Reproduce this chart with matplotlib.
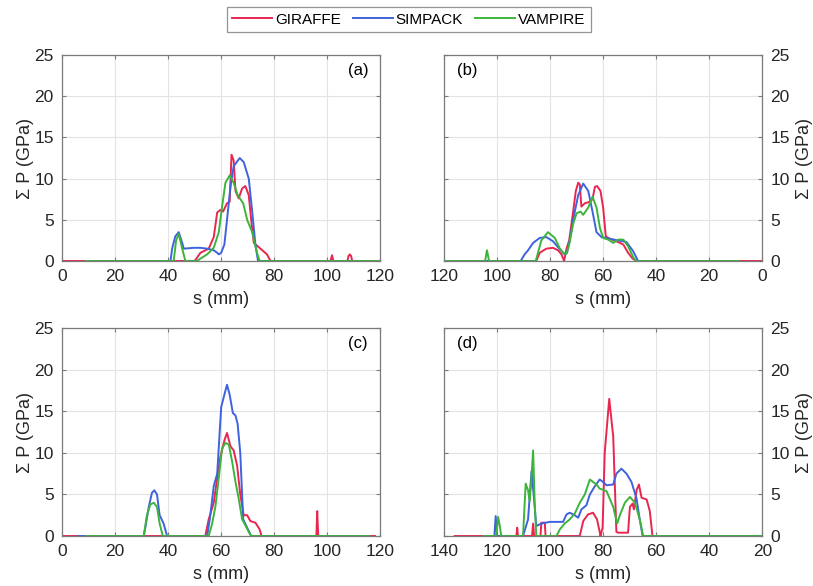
import matplotlib.pyplot as plt

plt.rcParams['font.family'] = ['Liberation Sans', 'DejaVu Sans']

names = ['GIRAFFE', 'SIMPACK', 'VAMPIRE']
colors = ['#e8264f', '#3f62dd', '#3cb43c']

# panel (a)
a_red_x = [0, 50, 52.2, 55.3, 57.2, 58.5, 59.7, 60.7, 62.2, 63.2, 63.9, 64.7, 65.4, 66.6, 67.9, 69.1, 70.4, 71.3, 72.3, 74.8, 77.3, 78.6,
           101.2, 101.8, 102.3, 107.6, 108.0, 108.5, 109.0, 109.4, 120]
a_red_y = [0, 0, 1.0, 1.5, 2.9, 5.9, 6.2, 6.0, 7.0, 7.2, 12.9, 12.2, 8.5, 7.6, 8.8, 9.1, 8.0, 5.0, 2.2, 1.5, 0.8, 0,
           0, 0.7, 0, 0, 0.6, 0.8, 0.6, 0, 0]
a_blue_x = [9, 40.9, 41.5, 42.7, 44.0, 45.3, 45.9, 49.7, 52.2, 54.7, 57.2, 58.5, 59.1, 60.0, 61.2, 62.2, 63.5, 64.7, 67.0, 68.5, 70.4,
            71.7, 72.9, 73.9, 120]
a_blue_y = [0, 0, 1.5, 3.0, 3.5, 2.2, 1.5, 1.6, 1.6, 1.5, 1.3, 1.0, 0.8, 1.0, 2.0, 5.0, 9.0, 11.5, 12.5, 12.0, 10.0,
            6.0, 2.0, 0, 0]
a_green_x = [9, 42.1, 43.0, 44.0, 45.3, 46.5, 50.9, 52.2, 54.7, 57.2, 59.1, 60.3, 61.6, 63.2, 64.7, 66.2, 68.3, 69.8, 71.7, 73.5,
             74.5, 120]
a_green_y = [0, 0, 2.5, 3.3, 1.5, 0, 0, 0.3, 0.8, 1.6, 3.5, 6.5, 9.5, 10.4, 9.5, 8.0, 7.0, 5.0, 3.5, 1.0,
             0, 0]

# panel (b)
b_red_x = [0, 47.4, 48.9, 50.6, 52.4, 55.0, 57.5, 59.0, 60.0, 61.0, 62.3, 63.1, 64.0, 65.0, 66.9, 68.2, 68.8, 69.4, 70.3, 71.3,
           72.8, 73.8, 74.7, 75.7, 77.0, 78.9, 81.4, 83.9, 85.2, 120]
b_red_y = [0, 0, 0.3, 1.0, 2.0, 2.4, 2.7, 3.0, 6.5, 8.5, 9.1, 9.0, 7.5, 7.2, 7.0, 6.6, 9.3, 9.5, 8.5, 6.0,
           2.5, 1.5, 0, 0.8, 1.3, 1.6, 1.5, 1.0, 0, 0]
b_blue_x = [9, 46.8, 48.7, 51.2, 54.3, 57.5, 60.6, 62.5, 64.0, 65.6, 67.5, 69.4, 71.3, 72.6, 73.6, 74.5, 76.3, 78.9, 81.4, 83.9,
            86.4, 88.3, 89.6, 91.1, 120]
b_blue_y = [0, 0, 1.2, 2.3, 2.5, 2.7, 2.9, 3.5, 6.0, 8.5, 9.4, 8.0, 5.0, 2.5, 1.0, 0.8, 1.4, 2.4, 2.9, 2.8,
            2.2, 1.3, 0.8, 0, 0]
b_green_x = [9, 47.7, 48.7, 50.6, 52.4, 54.3, 56.2, 58.1, 60.0, 61.2, 62.5, 64.0, 65.6, 67.5, 68.5, 70.0, 71.3, 72.8, 73.8, 74.8,
             76.3, 78.2, 80.8, 83.3, 85.4, 103.0, 103.8, 104.5, 120]
b_green_y = [0, 0, 0.5, 1.8, 2.6, 2.6, 2.2, 2.6, 2.8, 4.0, 6.5, 7.8, 6.5, 5.6, 6.0, 5.8, 4.5, 2.0, 0.9, 0.9,
             1.5, 2.8, 3.5, 2.5, 0, 0, 1.3, 0, 0]

# panel (c)
c_red_x = [0, 54.0, 55.3, 57.2, 58.5, 59.7, 61.2, 62.2, 63.5, 64.7, 66.0, 67.2, 68.5, 69.8, 71.0, 72.9, 74.5, 75.2,
           95.9, 96.2, 96.6, 118]
c_red_y = [0, 0, 2.0, 4.0, 7.0, 9.5, 11.5, 12.4, 10.8, 10.3, 8.5, 5.0, 2.5, 2.5, 1.8, 1.6, 0.8, 0,
           0, 3.0, 0, 0]
c_blue_x = [6, 30.8, 31.4, 32.7, 33.9, 34.8, 35.8, 36.8, 38.3, 39.6, 54.7, 55.7, 57.2, 58.5, 60.0, 61.2, 62.2, 63.2, 64.4,
            65.4, 66.2, 67.2, 68.3, 69.8, 71.3, 115.7]
c_blue_y = [0, 0, 1.0, 3.5, 5.2, 5.5, 5.0, 2.5, 1.5, 0, 0, 2.0, 6.0, 7.5, 15.5, 17.0, 18.2, 17.0, 14.8,
            14.5, 13.5, 10.0, 2.0, 1.0, 0, 0]
c_green_x = [9, 30.8, 32.0, 33.3, 34.6, 35.8, 36.8, 38.0, 55.3, 56.6, 57.8, 59.1, 60.3, 61.6, 62.9, 64.1, 65.4, 66.6, 67.9,
             69.1, 70.4, 71.3, 115.7]
c_green_y = [0, 0, 2.5, 3.8, 4.0, 3.5, 1.5, 0, 0, 1.5, 3.5, 7.0, 10.5, 11.2, 11.0, 9.0, 6.5, 4.5, 2.0,
             1.3, 0.5, 0, 0]

# panel (d)
d_red_x = [20, 61.4, 62.4, 63.6, 65.5, 66.5, 67.4, 68.4, 68.9, 69.9, 70.6, 74.3, 75.0, 76.2, 77.7, 79.4, 80.2, 81.0, 81.3,
           82.3, 83.8, 85.7, 87.5, 88.8, 101.7, 102.0, 103.3, 103.6, 106.0, 106.4, 106.8, 112.1, 112.4, 112.7, 136]
d_red_y = [0, 0, 3.0, 4.4, 4.6, 6.2, 5.5, 3.2, 3.9, 3.5, 0.4, 0.4, 0.5, 12.0, 16.5, 10.0, 1.0, 0, 0.5,
           2.0, 2.8, 2.6, 1.8, 0, 0, 1.6, 1.6, 0, 0, 1.5, 0, 0, 1.0, 0, 0]
d_blue_x = [20, 65.1, 66.2, 67.4, 69.3, 71.2, 73.1, 75.0, 76.2, 78.7, 80.0, 81.3, 83.1, 85.0, 86.3, 88.2, 89.4, 90.7, 92.6,
            93.8, 95.1, 96.3, 100.1, 103.3, 105.2, 106.2, 107.0, 108.3, 110.2, 120.0, 120.5, 121.0, 125]
d_blue_y = [0, 0, 2.0, 4.5, 6.5, 7.5, 8.1, 7.5, 6.2, 6.1, 6.5, 6.8, 6.0, 5.0, 3.7, 3.2, 2.2, 2.5, 2.8,
            2.6, 1.7, 1.7, 1.7, 1.5, 1.2, 5.0, 7.8, 2.0, 0, 0, 2.4, 0, 0]
d_green_x = [20, 64.9, 66.2, 68.0, 69.9, 71.8, 73.7, 74.7, 76.2, 78.7, 81.3, 82.5, 83.8, 85.0, 86.9, 88.8, 90.7, 92.6, 94.5,
             96.3, 97.6, 105.2, 105.8, 106.4, 107.0, 107.7, 108.3, 109.2, 110.2, 118.4, 119.0, 119.6, 120.3, 125]
d_green_y = [0, 0, 2.0, 4.0, 4.7, 4.0, 2.5, 1.5, 3.5, 5.4, 5.7, 6.2, 6.5, 6.8, 5.0, 4.0, 2.7, 2.0, 1.5,
             0.8, 0, 0, 4.0, 10.3, 7.0, 4.2, 5.5, 6.3, 0, 0, 1.3, 2.3, 0, 0]

panels = [
    ('(a)', (0, 120), [(a_red_x, a_red_y), (a_blue_x, a_blue_y), (a_green_x, a_green_y)]),
    ('(b)', (120, 0), [(b_red_x, b_red_y), (b_blue_x, b_blue_y), (b_green_x, b_green_y)]),
    ('(c)', (0, 120), [(c_red_x, c_red_y), (c_blue_x, c_blue_y), (c_green_x, c_green_y)]),
    ('(d)', (140, 20), [(d_red_x, d_red_y), (d_blue_x, d_blue_y), (d_green_x, d_green_y)]),
]

fig = plt.figure(figsize=(8.13, 5.86), dpi=100)
rects = [[0.0763, 0.5546, 0.3915, 0.3515],
         [0.5461, 0.5546, 0.3915, 0.3515],
         [0.0763, 0.0853, 0.3915, 0.3546],
         [0.5461, 0.0853, 0.3915, 0.3546]]

for i, (tag, xl, series) in enumerate(panels):
    ax = fig.add_axes(rects[i])
    for (xs, ys), c, n in zip(series, colors, names):
        ax.plot(xs, ys, color=c, lw=1.4, label=n)
    ax.set_xlim(*xl)
    ax.set_ylim(0, 25)
    lo, hi = min(xl), max(xl)
    ax.set_xticks(range(lo, hi + 1, 20))
    ax.set_yticks(range(0, 26, 5))
    ax.grid(True, color='#e3e3e3', lw=0.8)
    ax.set_axisbelow(True)
    for s in ax.spines.values():
        s.set_color('#7a7a7a')
        s.set_linewidth(0.9)
    ax.tick_params(direction='in', top=True, right=True, length=3, color='#7a7a7a',
                   labelsize=12.5, labelcolor='#262626', pad=6)
    ax.set_xlabel('s (mm)', fontsize=13, color='#262626', labelpad=5)
    right = i % 2 == 1
    if right:
        ax.yaxis.set_label_position('right')
        ax.tick_params(labelleft=False, labelright=True)
        ax.text(0.072, 0.925, tag, transform=ax.transAxes, fontsize=12, ha='center', va='center')
        ax.set_ylabel('\u03a3 P (GPa)', fontsize=13, color='#262626', labelpad=4)
    else:
        ax.text(0.93, 0.925, tag, transform=ax.transAxes, fontsize=12, ha='center', va='center')
        ax.set_ylabel('\u03a3 P (GPa)', fontsize=13, color='#262626', labelpad=0)
    if i == 0:
        handles, labels = ax.get_legend_handles_labels()

leg = fig.legend(handles, labels, loc='upper center', bbox_to_anchor=(0.503, 0.993), ncol=3,
                 fontsize=11, frameon=True, fancybox=False, edgecolor='#7a7a7a',
                 handlelength=2.6, columnspacing=0.8, handletextpad=0.2, borderpad=0.35,
                 borderaxespad=0.2)
leg.get_frame().set_linewidth(0.9)

fig.savefig('out.png', dpi=100)
